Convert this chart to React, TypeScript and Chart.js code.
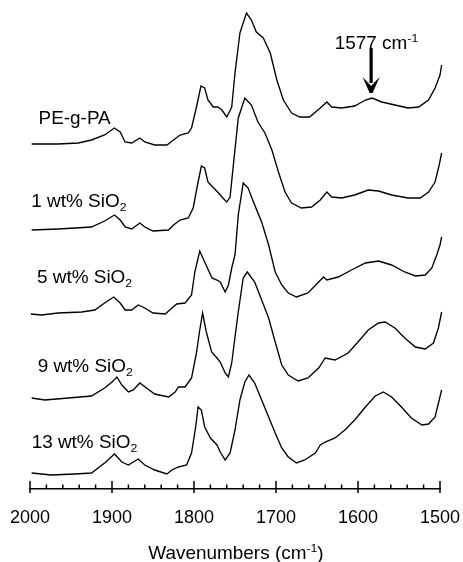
import React, { useEffect, useRef } from 'react';
import { Chart, registerables } from 'chart.js';

Chart.register(...registerables);

// ---------- data ----------
const X_MIN = 1500;
const X_MAX = 2000;
const MAJOR_STEP = 100;
const MINOR_STEP = 20;
const Y_MIN = 0;
const Y_MAX = 4.89;

const AXIS_TITLE = 'Wavenumbers (cm';
const AXIS_TITLE_SUP = '-1';
const AXIS_TITLE_END = ')';

const SERIES_NAMES = ['PE-g-PA', '1 wt% SiO2', '5 wt% SiO2', '9 wt% SiO2', '13 wt% SiO2'];

const X_PEGPA = [1998, 1966, 1941, 1925, 1909, 1897, 1890, 1884, 1876, 1866, 1860, 1848, 1833, 1825, 1817, 1807, 1803, 1797, 1791.5, 1787, 1783, 1776.5, 1771, 1766, 1760, 1754, 1750, 1744, 1736, 1730, 1724, 1715.5, 1707, 1699, 1691, 1681, 1671, 1659, 1646, 1638, 1632, 1620, 1604, 1591, 1583, 1571, 1555, 1539, 1526, 1514, 1506, 1500, 1498];
const Y_PEGPA = [3.45, 3.45, 3.46, 3.49, 3.54, 3.61, 3.57, 3.47, 3.46, 3.51, 3.47, 3.44, 3.44, 3.49, 3.54, 3.56, 3.61, 3.82, 4.03, 4.01, 3.89, 3.82, 3.82, 3.79, 3.72, 3.82, 4.16, 4.56, 4.76, 4.69, 4.57, 4.51, 4.36, 4.09, 3.89, 3.76, 3.72, 3.72, 3.81, 3.87, 3.82, 3.81, 3.83, 3.89, 3.91, 3.87, 3.84, 3.81, 3.82, 3.89, 4.01, 4.14, 4.24];

const X_SIO2_1 = [1998, 1966, 1945, 1925, 1909, 1897, 1890, 1884, 1876, 1866, 1860, 1850, 1831, 1825, 1817, 1807, 1801, 1795, 1791, 1787, 1783, 1776, 1770, 1766, 1760, 1756, 1752, 1746, 1738, 1730, 1722, 1713.5, 1705, 1697, 1689, 1681, 1669, 1656.5, 1646, 1638, 1632, 1620, 1604, 1587.5, 1575, 1559, 1539, 1524, 1514, 1506, 1501, 1498];
const Y_SIO2_1 = [2.59, 2.60, 2.61, 2.62, 2.68, 2.74, 2.69, 2.62, 2.60, 2.66, 2.62, 2.58, 2.59, 2.64, 2.69, 2.71, 2.81, 3.07, 3.23, 3.21, 3.07, 3.01, 2.96, 2.92, 2.87, 2.92, 3.24, 3.71, 3.91, 3.84, 3.67, 3.56, 3.39, 3.17, 2.97, 2.86, 2.81, 2.82, 2.89, 2.97, 2.92, 2.91, 2.94, 2.99, 2.98, 2.94, 2.91, 2.91, 2.97, 3.07, 3.24, 3.36];

const X_SIO2_5 = [1999, 1986, 1966, 1937, 1921, 1909, 1898, 1890, 1884, 1876, 1868, 1860, 1850, 1835, 1827, 1821, 1811, 1803, 1799, 1793, 1787, 1778, 1772, 1768, 1762, 1758, 1754, 1750, 1746, 1740, 1734, 1726, 1717.5, 1709, 1701, 1693, 1685, 1675, 1661, 1648, 1642, 1638, 1624, 1608, 1591, 1575, 1559, 1543, 1530, 1518, 1510, 1504, 1500, 1498];
const Y_SIO2_5 = [1.75, 1.74, 1.76, 1.77, 1.79, 1.86, 1.92, 1.86, 1.79, 1.79, 1.84, 1.81, 1.76, 1.75, 1.81, 1.85, 1.86, 1.94, 2.17, 2.38, 2.27, 2.11, 2.09, 2.07, 1.97, 2.04, 2.21, 2.34, 2.74, 3.06, 3.01, 2.84, 2.67, 2.44, 2.17, 2.04, 1.96, 1.92, 1.96, 2.07, 2.12, 2.09, 2.12, 2.19, 2.26, 2.28, 2.24, 2.17, 2.13, 2.14, 2.21, 2.34, 2.44, 2.52];

const X_SIO2_9 = [1998, 1982, 1953, 1925, 1909, 1900, 1894, 1888, 1880, 1874, 1866, 1858, 1848, 1831, 1823, 1819, 1811, 1803, 1797, 1793, 1789.5, 1785, 1778.5, 1772, 1768, 1762, 1758, 1754, 1750, 1746, 1740, 1735, 1726, 1717.5, 1709, 1701, 1693, 1685, 1673, 1661, 1648, 1640, 1628, 1612, 1600, 1587.5, 1575, 1567, 1555, 1543, 1530, 1518, 1508, 1502, 1498];
const Y_SIO2_9 = [0.91, 0.89, 0.91, 0.93, 1.01, 1.07, 1.12, 1.04, 0.97, 0.99, 1.06, 1.01, 0.95, 0.92, 0.97, 1.02, 1.02, 1.11, 1.36, 1.59, 1.76, 1.57, 1.37, 1.31, 1.27, 1.16, 1.12, 1.26, 1.52, 1.77, 2.11, 2.17, 2.07, 1.89, 1.71, 1.47, 1.24, 1.14, 1.08, 1.11, 1.21, 1.31, 1.29, 1.36, 1.47, 1.59, 1.66, 1.67, 1.61, 1.51, 1.42, 1.40, 1.46, 1.61, 1.77];

const X_SIO2_13 = [1998, 1974, 1945, 1925, 1909, 1897, 1888, 1880, 1868, 1860, 1848, 1833, 1827, 1819, 1809, 1803, 1798, 1795, 1791, 1787, 1780, 1772, 1768, 1762, 1756, 1750, 1744, 1738, 1733, 1726, 1717.5, 1709, 1701, 1693, 1685, 1675, 1665, 1652, 1646, 1640, 1628, 1616, 1604, 1591, 1579, 1569, 1559, 1547, 1535, 1522, 1514, 1506, 1501, 1498];
const Y_SIO2_13 = [0.16, 0.14, 0.15, 0.16, 0.26, 0.35, 0.27, 0.24, 0.30, 0.24, 0.19, 0.15, 0.19, 0.22, 0.24, 0.36, 0.62, 0.82, 0.79, 0.62, 0.51, 0.44, 0.37, 0.29, 0.36, 0.59, 0.89, 1.07, 1.14, 1.06, 0.89, 0.72, 0.56, 0.41, 0.32, 0.26, 0.29, 0.36, 0.44, 0.47, 0.51, 0.59, 0.69, 0.82, 0.93, 0.97, 0.92, 0.82, 0.71, 0.64, 0.65, 0.72, 0.89, 0.99];

const ANNOTATION_TEXT = '1577 cm';
const ANNOTATION_SUP = '-1';
const ARROW_AT = 1584;

// ---------- layout / style (not data) ----------
const FONT = '"Liberation Sans", Arial, Helvetica, sans-serif';
const TEXT_SIZE = 17.7;
const TEXT_HSCALE = 1.07;
const TICK_SIZE = 18;

// label anchors (wavenumber of left edge, value at baseline)
const LABEL_ANCHORS = [
  { x: 1989.6, y: 3.65 },
  { x: 1998.4, y: 2.82 },
  { x: 1991.5, y: 2.06 },
  { x: 1990.7, y: 1.17 },
  { x: 1998.0, y: 0.413 },
];
const ANNOT_ANCHOR = { x: 1628.4, y: 4.40 };
const ARROW_TOP = 4.41;
const ARROW_TIP = 3.96;

type Part = { t: string; kind?: 'sub' | 'sup' };

function splitName(name: string): Part[] {
  const m = name.match(/^(.*SiO)2$/);
  if (m) return [{ t: m[1] }, { t: '2', kind: 'sub' }];
  return [{ t: name }];
}

function measureRich(ctx: CanvasRenderingContext2D, parts: Part[], size: number) {
  let w = 0;
  for (const p of parts) {
    const s = p.kind ? size * 0.65 : size;
    ctx.font = `${s}px ${FONT}`;
    w += ctx.measureText(p.t).width;
  }
  return w * TEXT_HSCALE;
}

function drawRich(ctx: CanvasRenderingContext2D, parts: Part[], x: number, y: number, size: number) {
  ctx.save();
  ctx.translate(x, y);
  ctx.scale(TEXT_HSCALE, 1);
  let cx = 0;
  ctx.textBaseline = 'alphabetic';
  ctx.textAlign = 'left';
  for (const p of parts) {
    const s = p.kind ? size * 0.65 : size;
    ctx.font = `${s}px ${FONT}`;
    const dy = p.kind === 'sub' ? size * 0.23 : p.kind === 'sup' ? -size * 0.42 : 0;
    ctx.fillText(p.t, cx, dy);
    cx += ctx.measureText(p.t).width;
  }
  ctx.restore();
}

const decorPlugin = {
  id: 'decor',
  afterDraw(chart: any) {
    const { ctx, chartArea } = chart;
    const xs = chart.scales.x;
    const ys = chart.scales.y;
    ctx.save();
    ctx.strokeStyle = '#000';
    ctx.fillStyle = '#000';
    // tick marks
    ctx.lineWidth = 1.5;
    for (let v = X_MIN; v <= X_MAX; v += MINOR_STEP) {
      const px = xs.getPixelForValue(v);
      const major = v % MAJOR_STEP === 0;
      ctx.beginPath();
      ctx.moveTo(px, chartArea.bottom - (major ? 8 : 4.5));
      ctx.lineTo(px, chartArea.bottom + (major ? 4 : 0));
      ctx.stroke();
    }
    // series labels
    SERIES_NAMES.forEach((name, i) => {
      const a = LABEL_ANCHORS[i];
      drawRich(ctx, splitName(name), xs.getPixelForValue(a.x), ys.getPixelForValue(a.y), TEXT_SIZE);
    });
    // annotation text + arrow
    drawRich(
      ctx,
      [{ t: ANNOTATION_TEXT }, { t: ANNOTATION_SUP, kind: 'sup' }],
      xs.getPixelForValue(ANNOT_ANCHOR.x),
      ys.getPixelForValue(ANNOT_ANCHOR.y),
      TEXT_SIZE
    );
    const ax = xs.getPixelForValue(ARROW_AT);
    const top = ys.getPixelForValue(ARROW_TOP);
    const tip = ys.getPixelForValue(ARROW_TIP);
    ctx.lineWidth = 3.2;
    ctx.beginPath();
    ctx.moveTo(ax, top);
    ctx.lineTo(ax, tip - 10);
    ctx.stroke();
    ctx.beginPath();
    ctx.moveTo(ax - 8.5, tip - 16);
    ctx.lineTo(ax, tip - 7);
    ctx.lineTo(ax + 8.5, tip - 16);
    ctx.lineTo(ax + 1.5, tip);
    ctx.lineTo(ax - 1.5, tip);
    ctx.closePath();
    ctx.fill();
    // axis title
    const titleParts: Part[] = [{ t: AXIS_TITLE }, { t: AXIS_TITLE_SUP, kind: 'sup' }, { t: AXIS_TITLE_END }];
    const w = measureRich(ctx, titleParts, TEXT_SIZE);
    const cx = (chartArea.left + chartArea.right) / 2;
    drawRich(ctx, titleParts, cx - w / 2 + 1, chartArea.bottom + 70.3, TEXT_SIZE);
    ctx.restore();
  },
};

function pts(xs: number[], ys: number[]) {
  return xs.map((x, i) => ({ x, y: ys[i] }));
}

export default function App() {
  const ref = useRef<HTMLCanvasElement | null>(null);
  useEffect(() => {
    if (!ref.current) return;
    const series = [
      pts(X_PEGPA, Y_PEGPA),
      pts(X_SIO2_1, Y_SIO2_1),
      pts(X_SIO2_5, Y_SIO2_5),
      pts(X_SIO2_9, Y_SIO2_9),
      pts(X_SIO2_13, Y_SIO2_13),
    ];
    const chart = new Chart(ref.current, {
      type: 'line',
      data: {
        datasets: series.map((d, i) => ({
          label: SERIES_NAMES[i],
          data: d,
          borderColor: '#000',
          borderWidth: 1.35,
          pointRadius: 0,
          tension: 0,
          fill: false,
          clip: false as any,
        })),
      },
      options: {
        animation: false,
        responsive: false,
        devicePixelRatio: 1,
        layout: { padding: { left: 30, right: 23, top: 0, bottom: 0 } },
        plugins: { legend: { display: false }, tooltip: { enabled: false }, title: { display: false } },
        scales: {
          x: {
            type: 'linear',
            reverse: true,
            min: X_MIN,
            max: X_MAX,
            grid: { display: true, drawOnChartArea: false, drawTicks: false },
            border: { display: true, color: '#000', width: 1.5 },
            ticks: {
              stepSize: MAJOR_STEP,
              autoSkip: false,
              maxRotation: 0,
              padding: 18,
              color: '#000',
              font: { family: FONT, size: TICK_SIZE },
              callback: (v: any) => String(v),
            },
            afterFit: (scale: any) => {
              scale.height = 73;
              scale.paddingLeft = 0;
              scale.paddingRight = 0;
              scale.paddingTop = 0;
              scale.paddingBottom = 0;
            },
          },
          y: {
            type: 'linear',
            display: false,
            min: Y_MIN,
            max: Y_MAX,
          },
        },
      },
      plugins: [decorPlugin],
    });
    return () => chart.destroy();
  }, []);
  return (
    <div style={{ position: 'absolute', left: 0, top: 0, width: 463, height: 562 }}>
      <canvas ref={ref} width={463} height={562} style={{ display: 'block' }} />
    </div>
  );
}
